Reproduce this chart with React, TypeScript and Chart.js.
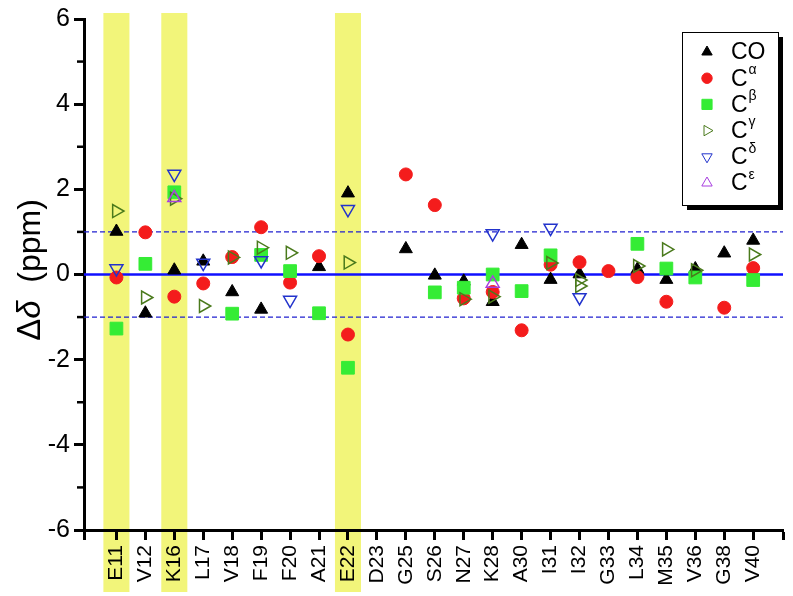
import React, { useEffect, useRef } from "react";
import { Chart, registerables } from "chart.js";
import { drawPoint } from "chart.js/helpers";

Chart.register(...registerables);

const residues = [
    "E11", "V12", "K16", "L17", "V18", "F19", "F20", "A21", "E22", "D23", "G25", "S26",
    "N27", "K28", "A30", "I31", "I32", "G33", "L34", "M35", "V36", "G38", "V40",
];
const highlighted = ["E11", "K16", "E22"];

const _ = null;
// Δδ in ppm, one value per residue above (null = not observed)
const co = [1.01, -0.91, 0.1, 0.31, -0.41, -0.82, _, 0.18, 1.91, _, 0.6, -0.02, -0.16, -0.64, 0.7, -0.12, 0.01, _, 0.12, -0.12, 0.13, 0.5, 0.8];
const cAlpha = [-0.07, 0.99, -0.52, -0.21, 0.41, 1.11, -0.19, 0.43, -1.41, _, 2.35, 1.63, -0.56, -0.41, -1.31, 0.23, 0.29, 0.08, -0.06, -0.64, _, -0.78, 0.15];
const cBeta = [-1.27, 0.25, 1.93, _, -0.92, 0.46, 0.08, -0.91, -2.19, _, _, -0.42, -0.31, 0.0, -0.39, 0.45, _, _, 0.72, 0.14, -0.07, _, -0.13];
const cGamma = [1.49, -0.54, 1.78, -0.74, 0.4, 0.63, 0.51, _, 0.28, _, _, _, -0.58, -0.52, _, 0.27, -0.13, _, 0.2, 0.59, 0.1, _, 0.47];
const cGamma2 = [_, _, _, _, _, _, _, _, _, _, _, _, _, _, _, _, -0.27, _, _, _, _, _, _];
const cDelta = [0.14, _, 2.36, 0.27, _, 0.33, -0.6, _, 1.53, _, _, _, _, 0.96, _, 1.09, -0.54, _, _, _, _, _, _];
const cEps = [_, _, 1.8, _, _, _, _, _, _, _, _, _, _, -0.21, _, _, _, _, _, _, _, _, _];

const yTicks = [-6, -4, -2, 0, 2, 4, 6];

const toPoints = (...lists: (number | null)[][]) =>
    lists.flatMap((vals) =>
        vals.flatMap((v, i) => (v === null ? [] : [{ x: i, y: v }]))
    );

const series = [
    { name: "CO", sup: "", data: toPoints(co), style: "triangle", rot: 0, r: 7.5, fill: "#000000", stroke: "#000000", bw: 1 },
    { name: "C", sup: "α", data: toPoints(cAlpha), style: "circle", rot: 0, r: 6.5, fill: "#f41c1c", stroke: "#f41c1c", bw: 1 },
    { name: "C", sup: "β", data: toPoints(cBeta), style: "rect", rot: 0, r: 9, fill: "#35ec35", stroke: "#35ec35", bw: 1 },
    { name: "C", sup: "γ", data: toPoints(cGamma, cGamma2), style: "triangle", rot: 90, r: 7.5, fill: "rgba(0,0,0,0)", stroke: "#4a7a1c", bw: 1.5 },
    { name: "C", sup: "δ", data: toPoints(cDelta), style: "triangle", rot: 180, r: 7.5, fill: "rgba(0,0,0,0)", stroke: "#2233cc", bw: 1.5 },
    { name: "C", sup: "ε", data: toPoints(cEps), style: "triangle", rot: 0, r: 7.5, fill: "rgba(0,0,0,0)", stroke: "#a83fe0", bw: 1.5 },
];

const FONT = "'Liberation Sans', Arial, sans-serif";

const decorPlugin = {
    id: "decor",
    beforeDraw(chart: any) {
        const { ctx } = chart;
        const x = chart.scales.x;
        ctx.save();
        ctx.fillStyle = "#f2f57a";
        highlighted.forEach((name) => {
            const i = residues.indexOf(name);
            const l = x.getPixelForValue(i - 0.45);
            const r = x.getPixelForValue(i + 0.45);
            ctx.fillRect(l, 13, r - l, 579);
        });
        ctx.restore();
    },
    beforeDatasetsDraw(chart: any) {
        const { ctx, chartArea } = chart;
        const y = chart.scales.y;
        ctx.save();
        [1, -1].forEach((v) => {
            ctx.beginPath();
            ctx.setLineDash([5, 3]);
            ctx.lineWidth = 1.3;
            ctx.strokeStyle = "#2020d0";
            ctx.moveTo(chartArea.left, y.getPixelForValue(v));
            ctx.lineTo(chartArea.right, y.getPixelForValue(v));
            ctx.stroke();
        });
        ctx.setLineDash([]);
        ctx.beginPath();
        ctx.lineWidth = 2.5;
        ctx.strokeStyle = "#1010ff";
        ctx.moveTo(chartArea.left, y.getPixelForValue(0));
        ctx.lineTo(chartArea.right, y.getPixelForValue(0));
        ctx.stroke();
        ctx.restore();
    },
    afterDraw(chart: any) {
        const { ctx, chartArea } = chart;
        const y = chart.scales.y;
        ctx.save();

        // minor ticks on y
        ctx.strokeStyle = "#000";
        ctx.lineWidth = 2.5;
        for (let v = -5; v <= 5; v += 2) {
            const py = y.getPixelForValue(v);
            ctx.beginPath();
            ctx.moveTo(chartArea.left - 7, py);
            ctx.lineTo(chartArea.left, py);
            ctx.stroke();
        }

        // y title: Δδ (ppm)
        ctx.translate(31, 270);
        ctx.rotate(-Math.PI / 2);
        ctx.fillStyle = "#000";
        ctx.textBaseline = "middle";
        const parts = [
            { t: "Δ", f: `33px ${FONT}` },
            { t: "δ", f: `italic 33px ${FONT}` },
            { t: "  (ppm)", f: `32px ${FONT}` },
        ];
        let total = 0;
        parts.forEach((p) => {
            ctx.font = p.f;
            total += ctx.measureText(p.t).width;
        });
        let cx = -total / 2;
        parts.forEach((p) => {
            ctx.font = p.f;
            ctx.textAlign = "left";
            ctx.fillText(p.t, cx, 0);
            cx += ctx.measureText(p.t).width;
        });
        ctx.restore();

        // legend
        ctx.save();
        const bx = 682, by = 32, bw = 96, bh = 173;
        ctx.fillStyle = "#000";
        ctx.fillRect(bx + 5, by + 5, bw, bh);
        ctx.fillStyle = "#fff";
        ctx.fillRect(bx, by, bw, bh);
        ctx.strokeStyle = "#000";
        ctx.lineWidth = 1;
        ctx.strokeRect(bx + 0.5, by + 0.5, bw, bh);
        series.forEach((s, i) => {
            const ly = 52 + i * 26.2;
            ctx.fillStyle = s.fill;
            ctx.strokeStyle = s.stroke;
            drawPoint(ctx, { pointStyle: s.style, rotation: s.rot, radius: s.r * 0.8, borderWidth: s.bw }, 707, ly);
            ctx.fillStyle = "#000";
            ctx.textAlign = "left";
            ctx.textBaseline = "middle";
            ctx.font = `23px ${FONT}`;
            ctx.fillText(s.name, 731, ly + 1);
            if (s.sup) {
                const w = ctx.measureText(s.name).width;
                ctx.font = `14px ${FONT}`;
                ctx.fillText(s.sup, 731 + w + 1, ly - 8);
            }
        });
        ctx.restore();
    },
};

export default function App() {
    const canvasRef = useRef<HTMLCanvasElement | null>(null);

    useEffect(() => {
        if (!canvasRef.current) return;

        const chart = new Chart(canvasRef.current, {
            type: "scatter",
            data: {
                datasets: series.map((s, i) => ({
                    label: s.name + s.sup,
                    data: s.data,
                    showLine: false,
                    order: series.length - i,
                    pointStyle: s.style as any,
                    rotation: s.rot,
                    pointRadius: s.r,
                    pointHoverRadius: s.r,
                    pointBackgroundColor: s.fill,
                    pointBorderColor: s.stroke,
                    pointBorderWidth: s.bw,
                    backgroundColor: s.fill,
                    borderColor: s.stroke,
                })),
            },
            options: {
                responsive: true,
                maintainAspectRatio: false,
                animation: false,
                events: [],
                layout: { padding: { top: 15, right: 5, left: 0, bottom: 0 } },
                plugins: {
                    legend: { display: false },
                    tooltip: { enabled: false },
                },
                scales: {
                    x: {
                        type: "linear",
                        min: -1.12,
                        max: 23.03,
                        afterBuildTicks: (axis: any) => {
                            axis.ticks = [axis.min, ...residues.map((_r, i) => i), axis.max].map((v) => ({ value: v }));
                        },
                        afterFit: (s: any) => {
                            s.height = 66;
                            s.paddingLeft = 0;
                            s.paddingRight = 0;
                        },
                        ticks: {
                            autoSkip: false,
                            maxRotation: 90,
                            minRotation: 90,
                            padding: 5,
                            color: "#000",
                            font: { family: FONT, size: 21 },
                            callback: (v: any) => (Number.isInteger(v) ? residues[v] ?? "" : ""),
                        },
                        grid: {
                            display: true,
                            drawOnChartArea: false,
                            drawTicks: true,
                            tickLength: 10,
                            tickWidth: 3,
                            tickColor: "#000",
                        },
                        border: { color: "#000", width: 3 },
                    },
                    y: {
                        min: -6,
                        max: 6,
                        afterBuildTicks: (axis: any) => {
                            axis.ticks = yTicks.map((v) => ({ value: v }));
                        },
                        afterFit: (s: any) => {
                            s.width = 84;
                        },
                        ticks: {
                            padding: 4,
                            color: "#000",
                            font: { family: FONT, size: 25 },
                        },
                        grid: {
                            display: true,
                            drawOnChartArea: false,
                            drawTicks: true,
                            tickLength: 10,
                            tickWidth: 3,
                            tickColor: "#000",
                        },
                        border: { color: "#000", width: 3 },
                    },
                },
            },
            plugins: [decorPlugin],
        });

        return () => chart.destroy();
    }, []);

    return (
        <div style={{ position: "fixed", left: 0, top: 0, width: 793, height: 596, background: "#fff" }}>
            <canvas ref={canvasRef} />
        </div>
    );
}
